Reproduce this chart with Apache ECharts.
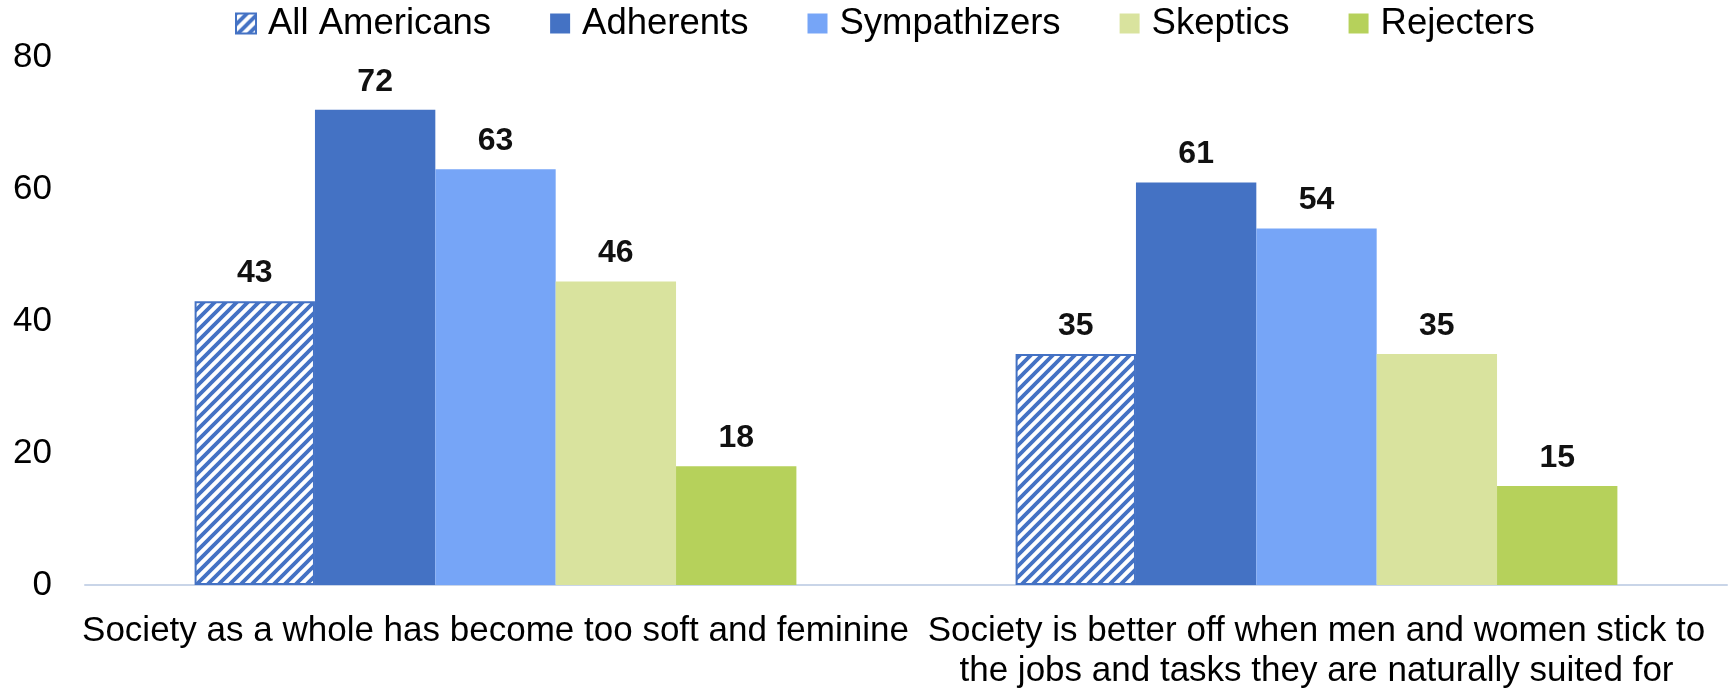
<!DOCTYPE html>
<html>
<head>
<meta charset="utf-8">
<script src="https://cdn.jsdelivr.net/npm/echarts@6/dist/echarts.min.js"></script>
<style>
  html, body { margin: 0; padding: 0; background: #fff; }
  #bar { width: 1732px; height: 688px; }
</style>
</head>
<body>
<div id="bar"></div>
<script>
var categories = [
    'Society as a whole has become too soft and feminine',
    'Society is better off when men and women stick to\nthe jobs and tasks they are naturally suited for'
];
var seriesNames = ['All Americans', 'Adherents', 'Sympathizers', 'Skeptics', 'Rejecters'];
var allAmericans = [43, 35];
var adherents = [72, 61];
var sympathizers = [63, 54];
var skeptics = [46, 35];
var rejecters = [18, 15];
var yTicks = [0, 20, 40, 60, 80];

// diagonal hatch for the "All Americans" bars
function hatch() {
    var c = document.createElement('canvas');
    var s = 11;
    c.width = s;
    c.height = s;
    var ctx = c.getContext('2d');
    ctx.fillStyle = '#fff';
    ctx.fillRect(0, 0, s, s);
    ctx.strokeStyle = '#4472C4';
    ctx.lineWidth = 3.8;
    ctx.beginPath();
    ctx.moveTo(-2, s + 2); ctx.lineTo(s + 2, -2);
    ctx.moveTo(-2, 2); ctx.lineTo(2, -2);
    ctx.moveTo(s - 2, s + 2); ctx.lineTo(s + 2, s - 2);
    ctx.stroke();
    return { image: c, repeat: 'repeat' };
}

var chart = echarts.init(document.getElementById('bar'));
var font = '"Liberation Sans", Arial, sans-serif';
var colors = [hatch(), '#4472C4', '#76A5F7', '#D9E39E', '#B6D15B'];
var values = [allAmericans, adherents, sympathizers, skeptics, rejecters];

var series = seriesNames.map(function (name, i) {
    return {
        name: name,
        type: 'bar',
        data: values[i],
        barGap: '0%',
        barCategoryGap: '26.7%',
        itemStyle: i === 0
            ? { color: colors[i], borderColor: '#4472C4', borderWidth: 2 }
            : { color: colors[i] },
        label: {
            show: true,
            position: 'top',
            distance: 12,
            color: '#111',
            fontFamily: font,
            fontWeight: 'bold',
            fontSize: 32
        }
    };
});

var option = {
    animation: false,
    legend: {
        top: 0,
        left: 230,
        itemWidth: 20,
        itemHeight: 20,
        itemGap: 59,
        icon: 'rect',
        textStyle: {
            color: '#000',
            fontFamily: font,
            fontSize: 36.5,
            padding: [0, 0, 0, 7]
        },
        data: seriesNames
    },
    grid: {
        left: 85,
        right: 5,
        top: 57,
        bottom: 103,
        outerBoundsMode: 'none'
    },
    xAxis: {
        type: 'category',
        data: categories,
        axisTick: { show: false },
        axisLine: { lineStyle: { color: '#C9D5E8', width: 2 } },
        axisLabel: {
            interval: 0,
            color: '#000',
            fontFamily: font,
            fontSize: 35,
            lineHeight: 40,
            margin: 26
        }
    },
    yAxis: {
        type: 'value',
        min: yTicks[0],
        max: yTicks[yTicks.length - 1],
        interval: 20,
        splitLine: { show: false },
        axisLine: { show: false },
        axisTick: { show: false },
        axisLabel: {
            color: '#000',
            fontFamily: font,
            fontSize: 35,
            margin: 33
        }
    },
    series: series
};
chart.setOption(option);
window.addEventListener('resize', function () {
    chart.resize();
});
</script>
</body>
</html>
